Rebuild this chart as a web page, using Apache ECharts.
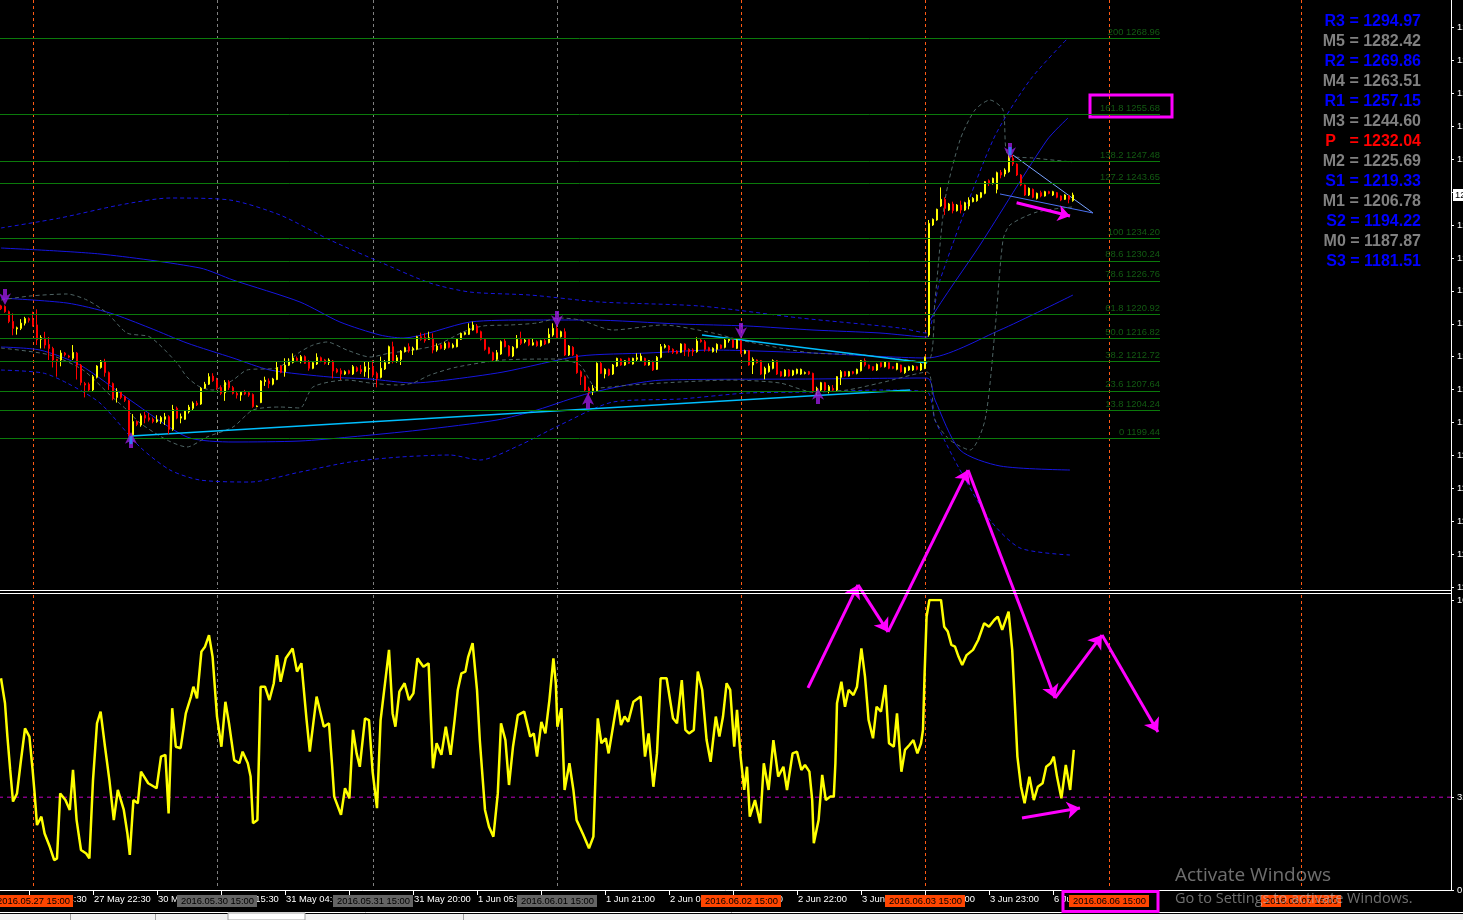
<!DOCTYPE html>
<html><head><meta charset="utf-8">
<script src="https://cdn.jsdelivr.net/npm/echarts@6.0.0/dist/echarts.min.js"></script>
<style>html,body{margin:0;padding:0;background:#000;overflow:hidden}#c{width:1463px;height:920px}</style>
</head><body><div id="c"></div>
<script>
// ---------- DATA ----------
// candles: [open, close, low, high] per 30-min bar
const candles = [
[1222.4,1221.9,1221.7,1222.6],[1222.3,1221.4,1221.2,1222.5],[1221.4,1219.7,1219.4,1221.6],[1219.7,1218.5,1217.3,1221.1],[1218.4,1218.6,1217.4,1218.8],
[1218.5,1219.4,1218.2,1220.1],[1219.4,1220.2,1219.0,1220.5],[1220.2,1219.9,1219.5,1220.4],[1219.95,1219.1,1218.8,1221.4],[1219.1,1216.5,1215.6,1221.8],
[1216.6,1216.9,1215.0,1217.3],[1216.8,1215.6,1215.0,1217.9],[1215.7,1215.0,1213.0,1217.0],[1215.0,1213.0,1211.7,1215.3],[1213.1,1212.9,1210.1,1213.2],
[1213.0,1214.2,1211.9,1214.7],[1214.2,1213.9,1213.6,1214.4],[1213.7,1213.5,1213.3,1213.9],[1213.3,1214.3,1213.0,1215.6],[1214.2,1212.1,1209.6,1214.4],
[1212.1,1209.1,1208.6,1212.3],[1208.9,1208.65,1206.5,1209.2],[1208.8,1207.8,1207.5,1209.1],[1207.8,1210.1,1207.5,1210.4],[1210.0,1211.95,1209.8,1212.1],
[1211.7,1212.8,1211.5,1213.0],[1212.65,1210.8,1210.1,1213.2],[1210.8,1208.9,1207.8,1211.0],[1208.9,1206.3,1206.0,1209.1],[1206.5,1207.5,1205.6,1208.1],
[1207.4,1206.5,1206.2,1207.6],[1206.6,1206.0,1205.7,1206.8],[1205.9,1200.0,1199.7,1206.05],[1200.0,1202.3,1199.8,1203.6],[1202.3,1201.8,1201.5,1202.5],
[1201.7,1203.3,1201.4,1203.7],[1203.4,1202.9,1202.0,1204.0],[1202.95,1202.6,1202.3,1203.8],[1202.7,1202.3,1202.0,1203.0],[1202.3,1202.6,1202.1,1203.4],
[1202.3,1203.0,1201.9,1203.3],[1202.7,1203.15,1201.7,1203.8],[1203.15,1200.95,1200.1,1203.4],[1200.95,1204.4,1200.7,1205.2],[1204.6,1202.9,1202.7,1204.9],
[1202.9,1203.15,1202.0,1203.7],[1202.7,1204.1,1202.6,1204.3],[1204.0,1204.8,1203.7,1205.2],[1204.6,1205.5,1204.3,1205.8],[1205.5,1205.2,1205.0,1205.9],
[1205.35,1208.1,1205.2,1208.3],[1208.1,1208.8,1208.0,1209.2],[1208.8,1210.1,1208.65,1210.7],[1210.2,1209.4,1209.2,1210.7],[1209.5,1208.2,1207.8,1209.9],
[1208.2,1207.2,1206.9,1208.6],[1207.3,1209.1,1205.9,1209.5],[1209.2,1208.2,1207.8,1209.5],[1208.2,1207.2,1207.0,1208.5],[1207.2,1206.9,1206.3,1207.5],
[1206.9,1207.4,1205.9,1207.6],[1207.4,1207.1,1206.9,1207.8],[1207.3,1206.9,1206.6,1207.5],[1207.0,1204.9,1204.7,1207.2],[1204.9,1205.0,1204.8,1205.1],
[1205.6,1209.35,1205.5,1209.5],[1209.25,1209.5,1208.5,1210.1],[1209.35,1208.9,1208.1,1209.8],[1208.8,1209.7,1208.6,1209.9],[1209.6,1211.7,1209.5,1212.7],
[1211.95,1210.85,1210.7,1212.1],[1210.95,1212.1,1210.1,1213.3],[1212.1,1212.7,1211.95,1213.3],[1212.6,1213.35,1212.4,1214.15],[1213.3,1212.9,1212.7,1213.6],
[1212.71,1213.58,1212.42,1213.87],[1213.58,1212.42,1212.3,1213.8],[1212.71,1211.55,1211.14,1213.0],[1211.55,1212.53,1211.4,1212.7],[1212.3,1213.46,1212.13,1214.16],
[1213.4,1212.82,1212.6,1213.6],[1213.0,1212.42,1212.2,1213.2],[1212.6,1213.0,1212.13,1213.29],[1212.82,1211.08,1209.81,1213.0],[1211.37,1210.91,1210.7,1211.6],
[1211.14,1210.56,1209.52,1211.55],[1210.56,1210.97,1210.4,1211.2],[1211.14,1210.68,1210.5,1211.3],[1210.56,1211.84,1210.39,1212.13],[1211.66,1211.08,1210.9,1211.9],
[1211.37,1210.97,1210.56,1212.13],[1210.97,1211.84,1210.10,1212.71],[1211.43,1211.55,1209.81,1212.71],[1211.84,1210.39,1209.98,1213.0],[1210.68,1209.81,1208.25,1210.97],
[1209.98,1211.55,1209.81,1213.58],[1211.43,1212.53,1211.26,1213.0],[1212.42,1215.31,1212.3,1215.5],[1215.31,1212.82,1212.42,1216.18],[1212.82,1213.40,1212.53,1213.87],
[1213.11,1214.56,1212.13,1214.73],[1214.44,1215.14,1214.3,1215.3],[1215.31,1214.56,1214.27,1215.89],[1214.73,1215.02,1213.87,1215.31],[1214.85,1217.05,1214.7,1217.2],
[1217.05,1216.59,1216.36,1217.75],[1216.88,1216.36,1216.01,1217.63],[1216.59,1216.88,1216.47,1217.92],[1216.76,1214.73,1214.16,1217.63],[1214.73,1215.43,1214.44,1215.89],
[1215.60,1215.02,1214.85,1215.75],[1215.02,1215.89,1214.73,1216.18],[1216.01,1215.20,1215.02,1216.2],[1215.20,1215.60,1215.02,1215.89],[1215.31,1216.59,1215.2,1216.8],
[1216.59,1217.63,1216.47,1217.75],[1217.46,1217.75,1217.3,1217.9],[1217.46,1218.50,1217.34,1219.37],[1218.21,1219.08,1218.1,1219.66],[1218.91,1217.75,1217.63,1219.25],
[1217.92,1216.59,1216.4,1218.1],[1216.59,1214.85,1214.62,1216.76],[1215.14,1214.16,1214.0,1215.3],[1214.27,1213.00,1212.71,1214.44],[1213.11,1214.27,1212.88,1214.73],
[1214.04,1216.18,1213.9,1216.4],[1216.30,1215.31,1215.2,1216.76],[1215.43,1213.75,1213.6,1215.6],[1213.69,1215.20,1213.5,1215.4],[1215.14,1216.59,1215.02,1217.34],
[1216.59,1215.89,1215.6,1217.92],[1216.18,1216.47,1215.9,1216.76],[1216.59,1215.60,1215.4,1216.8],[1215.60,1216.01,1215.49,1216.76],[1216.18,1215.49,1215.3,1216.4],
[1215.49,1216.36,1215.3,1216.5],[1216.36,1215.78,1215.6,1216.76],[1216.01,1217.46,1215.89,1218.50],[1217.34,1218.50,1217.05,1219.37],[1218.50,1216.93,1216.76,1219.08],
[1217.05,1217.92,1216.9,1218.1],[1217.92,1213.87,1213.69,1218.50],[1213.87,1215.43,1213.7,1215.6],[1215.20,1213.87,1213.7,1215.4],[1213.87,1210.80,1210.6,1214.0],
[1210.97,1210.10,1208.65,1211.2],[1210.10,1207.78,1207.5,1210.3],[1208.07,1207.32,1206.9,1208.36],[1207.67,1208.07,1206.9,1208.65],[1207.67,1212.42,1207.5,1212.6],
[1212.42,1210.68,1210.56,1212.71],[1210.56,1211.38,1209.81,1211.55],[1211.38,1210.39,1210.2,1211.5],[1210.56,1212.13,1210.4,1212.3],[1211.95,1213.29,1211.8,1213.4],
[1213.17,1212.13,1212.0,1213.3],[1212.13,1212.88,1212.0,1213.0],[1213.29,1212.42,1212.3,1213.4],[1212.30,1213.29,1212.2,1213.4],[1213.11,1213.40,1212.71,1214.16],
[1212.88,1213.69,1212.71,1214.16],[1213.29,1212.13,1212.0,1213.4],[1212.13,1212.88,1212.0,1213.0],[1212.71,1211.26,1211.1,1212.9],[1211.38,1213.46,1211.26,1213.69],
[1213.46,1215.32,1213.29,1215.78],[1215.2,1215.5,1215.0,1215.8],[1215.43,1214.74,1214.27,1215.60],[1214.85,1214.33,1214.04,1215.03],[1214.56,1214.16,1214.0,1214.7],
[1214.33,1215.78,1214.2,1215.9],[1215.78,1214.74,1213.69,1215.89],[1214.85,1214.45,1213.58,1215.03],[1214.74,1214.45,1213.69,1215.03],[1214.45,1216.30,1214.27,1216.94],
[1216.47,1216.18,1216.01,1216.76],[1216.18,1214.85,1214.45,1216.47],[1215.14,1214.62,1214.5,1215.3],[1214.45,1215.03,1214.3,1215.2],[1214.85,1215.72,1214.27,1215.89],
[1215.60,1215.03,1214.9,1215.7],[1215.20,1216.47,1215.03,1216.76],[1216.36,1216.59,1216.01,1216.76],[1216.47,1215.20,1215.1,1216.6],[1215.03,1216.47,1214.9,1216.6],
[1216.36,1214.16,1214.0,1216.5],[1214.16,1214.62,1214.0,1214.8],[1214.62,1212.13,1212.0,1214.7],[1212.13,1213.11,1210.56,1213.46],[1213.00,1212.53,1212.4,1213.1],
[1212.88,1210.56,1210.4,1213.0],[1210.56,1211.55,1209.64,1211.84],[1210.97,1211.95,1210.80,1212.42],[1211.55,1212.88,1211.38,1213.11],[1212.88,1210.56,1210.39,1213.00],
[1210.97,1210.22,1210.1,1211.1],[1210.22,1211.26,1210.1,1211.4],[1211.26,1210.22,1210.1,1211.4],[1210.39,1211.14,1210.2,1211.3],[1210.68,1211.38,1210.5,1211.5],
[1210.56,1211.38,1210.4,1211.5],[1210.68,1210.80,1210.5,1211.0],[1210.97,1210.56,1210.4,1211.1],[1210.68,1207.49,1207.32,1210.80],[1207.49,1208.07,1206.91,1208.36],
[1207.78,1209.06,1207.6,1209.2],[1209.06,1207.78,1207.6,1209.2],[1207.67,1208.36,1207.20,1208.65],[1208.07,1207.78,1207.49,1208.65],[1207.78,1210.10,1207.6,1210.2],
[1209.98,1210.97,1208.65,1211.26],[1210.97,1210.22,1210.1,1211.1],[1210.22,1210.97,1210.1,1211.1],[1210.97,1210.68,1210.5,1211.1],[1210.68,1211.38,1210.5,1211.5],
[1211.14,1212.88,1211.0,1213.0],[1212.88,1212.13,1211.84,1213.29],[1212.13,1211.55,1211.4,1212.2],[1211.84,1211.26,1211.1,1211.9],[1211.26,1212.24,1211.1,1212.4],
[1212.53,1211.84,1211.7,1212.6],[1211.84,1212.71,1211.7,1212.8],[1212.53,1211.55,1211.4,1212.6],[1211.84,1211.55,1211.4,1211.9],[1211.38,1212.42,1211.2,1212.5],
[1212.13,1210.97,1210.8,1212.2],[1210.80,1211.67,1210.6,1211.8],[1211.26,1211.84,1211.1,1212.0],[1211.26,1211.95,1211.1,1212.1],[1211.84,1211.38,1211.2,1212.0],
[1211.26,1212.30,1211.1,1212.5],[1211.55,1213.46,1211.4,1213.6],[1217.34,1236.75,1217.05,1237.33],[1236.46,1237.44,1236.3,1237.6],[1237.33,1239.18,1237.2,1239.3],
[1239.76,1240.92,1239.6,1243.0],[1240.92,1239.35,1238.19,1241.27],[1239.06,1240.11,1238.9,1240.3],[1240.11,1238.95,1238.48,1240.51],[1238.95,1239.93,1238.8,1240.1],
[1239.93,1239.06,1238.48,1240.69],[1239.06,1240.34,1238.9,1240.5],[1239.76,1240.80,1239.18,1241.27],[1240.51,1241.09,1240.4,1241.3],[1240.69,1241.67,1240.5,1241.8],
[1241.27,1242.08,1241.1,1242.2],[1241.96,1243.99,1241.8,1244.1],[1244.16,1243.70,1243.23,1244.39],[1243.70,1244.57,1243.5,1244.7],[1242.66,1245.55,1241.96,1245.73],
[1245.61,1245.15,1244.57,1246.02],[1245.32,1246.02,1244.86,1246.31],[1245.73,1248.22,1245.55,1248.91],[1248.04,1247.06,1246.71,1248.62],[1247.06,1245.15,1244.97,1247.17],
[1245.15,1243.41,1243.2,1245.3],[1243.41,1241.67,1241.5,1243.5],[1241.67,1242.83,1241.5,1243.0],[1242.66,1241.27,1241.1,1242.8],[1241.09,1241.96,1240.9,1242.1],
[1242.08,1241.50,1241.27,1242.42],[1241.50,1242.25,1241.4,1242.4],[1242.25,1241.96,1241.8,1242.4],[1241.67,1242.25,1241.5,1242.4],[1242.08,1241.27,1241.1,1242.2],
[1241.50,1240.80,1240.6,1241.6],[1240.92,1241.67,1240.8,1241.8],[1241.50,1240.92,1240.23,1241.67],[1240.69,1241.67,1240.51,1242.08]
];

// oscillator (lower panel), [bar, value]
const osc = [
[0,73.0],[1.0,64.4],[1.6,52.9],[2.3,41.4],[3.0,30.5],[4.0,33.3],[4.9,43.7],[6.0,55.7],[7.1,52.9],[7.9,41.4],[8.4,33.3],[9.0,22.4],[10.1,25.3],[10.9,19.5],[12.2,14.9],[13.3,10.3],[14.0,10.9],[14.8,33.3],[16.1,31.0],[17.2,27.6],[18.0,41.4],[18.9,24.1],[20.0,13.8],[21.3,12.6],[22.1,10.9],[23.0,37.9],[24.0,57.5],[24.9,61.5],[26.0,49.4],[27.1,37.9],[28.2,24.1],[29.2,34.5],[30.7,27.6],[31.6,19.5],[32.2,12.1],[33.1,31.0],[34.2,29.9],[35.0,40.8],[36.8,36.8],[38.9,35.1],[40.0,46.0],[41.1,46.6],[41.9,26.4],[42.8,62.7],[43.7,49.4],[44.9,48.9],[46.2,60.9],[47.5,66.7],[48.1,70.1],[49.0,66.1],[50.1,82.2],[51.0,83.9],[52.0,87.9],[52.9,80.4],[54.0,59.8],[55.1,49.4],[56.1,64.9],[57.0,57.5],[58.3,44.8],[59.6,43.7],[60.4,47.7],[61.7,43.7],[62.4,39.1],[63.0,23.0],[64.1,24.1],[64.9,70.1],[66.0,70.1],[67.1,65.5],[68.2,71.3],[69.0,81.0],[69.9,71.8],[71.2,79.9],[72.9,83.3],[74.0,75.3],[75.1,78.2],[76.4,58.6],[77.2,47.7],[78.9,66.7],[80.7,56.3],[82.0,57.5],[82.8,42.5],[83.3,32.2],[85.0,25.9],[86.0,35.1],[87.1,31.6],[88.0,55.2],[88.9,47.1],[89.7,42.5],[91.0,59.2],[92.0,58.6],[92.9,40.8],[94.0,28.2],[94.9,58.6],[96.2,73.6],[97.0,82.8],[97.9,60.9],[98.6,56.3],[99.6,68.4],[100.9,71.3],[102.0,65.5],[103.1,67.8],[104.1,79.9],[105.6,77.0],[106.9,78.2],[108.0,42.0],[108.9,50.6],[110.1,46.6],[111.2,56.3],[112.4,46.6],[113.4,58.6],[114.2,69.0],[115.1,74.7],[116.1,75.3],[116.8,80.4],[117.9,85.1],[119.0,69.0],[119.7,51.7],[121.0,27.6],[122.0,21.8],[123.1,18.4],[124.2,33.3],[125.0,57.5],[126.1,51.7],[127.0,36.2],[128.0,49.4],[129.2,60.3],[130.8,61.5],
[132.3,52.9],[133.2,54.0],[134.0,46.0],[135.1,58.0],[136.1,54.0],[137.1,65.5],[138.1,79.9],[138.7,71.3],[139.1,56.3],[140.1,62.7],[140.9,34.5],[142.1,43.7],[143.1,34.5],[143.9,24.1],[145.6,19.0],[147.0,14.4],[148.1,18.4],[148.8,46.0],[149.2,59.2],[150.1,50.6],[151.2,52.3],[151.9,47.1],[153.0,56.3],[154.1,65.5],[155.0,56.9],[155.9,59.8],[156.8,58.0],[158.1,64.9],[159.9,66.7],[161.0,46.0],[161.9,54.0],[163.1,35.6],[164.0,47.1],[164.9,73.0],[166.4,73.0],[168.0,59.2],[169.0,57.5],[170.2,72.4],[171.1,55.2],[172.0,54.0],[173.2,55.2],[174.2,75.3],[175.3,69.0],[176.4,51.7],[177.4,44.2],[178.7,59.8],[179.6,52.9],[180.5,59.8],[181.4,71.3],[182.3,69.0],[183.3,49.4],[184.0,62.1],[184.9,46.0],[185.8,34.5],[186.5,42.5],[187.2,25.3],[188.5,31.0],[189.8,23.0],[190.7,43.7],[191.9,34.5],[193.1,51.7],[194.3,39.1],[195.6,42.5],[196.5,34.5],[197.9,47.1],[199.0,47.7],[200.1,41.4],[201.0,43.1],[202.1,40.8],[202.8,31.0],[203.2,16.1],[204.4,24.1],[205.3,39.7],[206.2,31.0],[207.3,32.2],[208.2,32.2],[208.6,43.7],[209.0,64.4],[210.1,71.8],[211.0,63.2],[211.9,69.0],[213.1,67.2],[214.0,70.1],[215.1,83.3],[216.0,73.6],[216.9,58.6],[218.0,52.3],[218.9,63.2],[220.0,61.5],[221.1,70.7],[222.0,50.6],[223.2,49.4],[224.0,60.9],[225.1,40.8],[226.0,48.3],[227.1,50.0],[228.1,51.7],[229.1,47.1],[230.0,50.6],[230.5,55.2],[230.9,74.7],[231.4,94.3],[232.1,100],[235.0,100],[235.8,90.8],[236.7,89.1],[237.6,84.5],[238.5,83.9],[239.4,80.4],[240.3,77.6],[241.4,81.0],[243.0,82.8],[244.3,86.2],[245.8,92.0],[247.0,90.8],[248.3,93.1],[249.2,94.3],[250.3,89.7],[251.9,96.0],[252.8,82.8],[253.5,63.2],[254.1,46.0],[255.0,35.6],[255.9,29.9],[257.1,39.1],[258.2,31.0],[259.2,35.6],[260.4,36.8],[261.3,42.5],[262.4,43.7],[263.2,46.0],[264.0,39.1],[265.1,31.6],[266.2,43.1],[267.3,34.5],[268.2,48.3]
];

// band lines [bar, price]
const bandOuterUpper = [[0,1235.94],[14.75,1237.68],[29.75,1239.94],[42.25,1241.15],[57.25,1240.80],[69.75,1238.20],[82.25,1233.85],[94.75,1230.03],[107.25,1226.38],[117.25,1224.81],[132.25,1224.29],[149.75,1223.08],[174.75,1222.38],[199.75,1220.30],[224.75,1218.56],[231.25,1217.69],[234.75,1226.90],[248,1251.23],[257.25,1261.66],[266.75,1268.96]];
const bandOuterLower = [[0,1211.26],[10.5,1210.74],[16.5,1209.00],[24.75,1205.52],[34.75,1197.88],[42.25,1193.88],[49.75,1192.14],[62.25,1191.79],[74.75,1193.53],[87.25,1195.27],[99.75,1196.14],[112.25,1196.49],[119.75,1195.62],[129.75,1198.22],[139.75,1201.70],[153,1205.70],[169.75,1206.22],[186.5,1207.26],[203,1207.44],[219.75,1207.78],[231.5,1207.44],[233.5,1202.57],[239.75,1193.88],[247.25,1185.19],[254.75,1180.33],[267.25,1179.11]];
const bandInnerUpper = [[0,1232.46],[24.75,1231.42],[49.75,1228.99],[58,1226.90],[74.75,1223.08],[84.75,1219.60],[94.75,1217.34],[100.5,1216.82],[117.25,1219.60],[132.25,1219.95],[147.25,1219.95],[169.75,1219.25],[186.5,1218.91],[203,1218.21],[219.75,1217.69],[231.5,1216.99],[232.25,1219.95],[244.75,1232.98],[261.5,1251.23],[266.75,1255.06]];
const bandMiddle = [[0,1223.77],[16.5,1222.90],[27.25,1221.17],[37.25,1218.56],[46.5,1215.95],[58,1213.35],[67.25,1211.26],[82.25,1210.04],[92.25,1209.70],[103,1209.00],[111.5,1209.52],[125.5,1210.91],[144.75,1213.69],[161.5,1214.21],[178,1214.73],[203,1214.21],[231.5,1213.35],[249.75,1218.21],[268,1224.29]];
const bandInnerLower = [[0,1215.26],[9.75,1214.73],[19.75,1212.13],[32.25,1206.05],[46.5,1199.62],[58,1198.75],[74.75,1198.92],[87.25,1199.62],[104.75,1200.83],[124,1202.57],[134,1204.31],[147.25,1207.26],[165.5,1209.52],[203,1209.70],[231.5,1209.87],[233.5,1206.05],[239.75,1197.36],[249.75,1194.58],[267.25,1193.88]];
const bbUpper = [[0,1223.42],[7.25,1224.12],[16.5,1224.47],[21.5,1223.42],[26.5,1221.17],[31.5,1217.69],[37.25,1216.99],[44,1212.48],[46.5,1210.04],[49.75,1208.31],[53,1207.78],[58,1209.52],[61.5,1211.26],[69,1211.61],[74.75,1214.39],[78,1215.60],[81.5,1216.13],[86.5,1214.73],[92.25,1213.52],[97.25,1214.21],[103,1214.73],[109,1215.60],[115.5,1217.86],[120.5,1218.91],[127.25,1219.08],[134,1219.43],[139.75,1220.30],[144.75,1219.95],[153,1218.21],[165.5,1219.08],[178,1217.69],[184.75,1216.47],[194.75,1215.08],[203,1214.21],[215.5,1213.87],[231.5,1212.65],[233.5,1223.42],[236,1240.80],[239.75,1251.23],[243.5,1256.45],[247.25,1258.18],[250.5,1256.45],[251.75,1248.62],[258,1248.10],[267.75,1247.41]];
const bbLower = [[0,1215.08],[12.25,1213.87],[20.5,1211.26],[27.25,1206.91],[31.5,1204.31],[34.75,1202.05],[41.5,1199.09],[46.5,1197.88],[51.5,1199.62],[58,1201.35],[63,1204.31],[69.75,1204.83],[74.75,1204.66],[78,1208.31],[86.5,1209.52],[92.25,1209.00],[99,1208.65],[103,1209.00],[107.25,1210.39],[114,1211.78],[125.5,1213.00],[139,1213.17],[144.75,1212.13],[149,1208.13],[157.25,1208.65],[169.75,1209.17],[182.25,1209.52],[194.75,1209.00],[203,1207.44],[211.5,1207.78],[219.75,1209.00],[231.5,1210.9],[233.5,1202.57],[237.25,1199.09],[242.25,1197.36],[246,1202.57],[248.5,1218.21],[250.5,1233.85],[252.25,1236.46],[259,1238.72],[267.75,1239.59]];

// Fibonacci levels
const fibLevels = ['200','161.8','138.2','127.2','100','88.6','78.6','61.8','50.0','38.2','23.6','13.8','0'];
const fibPrices = [1268.96,1255.68,1247.48,1243.65,1234.20,1230.24,1226.76,1220.92,1216.82,1212.72,1207.64,1204.24,1199.44];
const fibEndBar = 289.75;

// trend lines [[bar, price],[bar, price]]
const trendCyan = [[[32.5,1199.79],[227.25,1207.78]],[[175.25,1217.34],[231.5,1212.48]]];
const wedgeUpper = [[253,1248.62],[273,1238.55]];
const wedgeLower = [[249.75,1241.85],[273,1238.55]];
const magentaPriceArrow = [[253.9,1240.33],[267.25,1238.02]];
const fibBoxCorners = [[272.25,1259.05],[292.75,1255.23]];

// fractal arrows
const arrowDown = [[1,1223.95],[139,1220.12],[185,1218.04],[252.25,1249.32]];
const arrowUp = [[32.5,1199.09],[146.75,1205.87],[204.25,1206.74]];

// lower panel annotations
const zigBars = [201.75,214.25,221.75,241.75,263.5,275.25,289.25];
const zigVals = [69.7,105.2,89.0,144.8,66.2,87.9,54.5];
const oscArrow = [[255.25,24.8],[269.75,28.3]];
const oscLevel = 32;

// pivot table
const pivotNames = ['R3','M5','R2','M4','R1','M3','P  ','M2','S1','M1','S2','M0','S3'];
const pivotValues = ['1294.97','1282.42','1269.86','1263.51','1257.15','1244.60','1232.04','1225.69','1219.33','1206.78','1194.22','1187.87','1181.51'];
const pivotColors = ['#0000ff','#808080','#0000ff','#808080','#0000ff','#808080','#ff0000','#808080','#0000ff','#808080','#0000ff','#808080','#0000ff'];

// time axis
const tickBars = [7,23,39,55,71,87,103,119,135,151,167,183,199,215,231,247,263];
const tickLabels = ['27 May 14:30','27 May 22:30','30 May 07:30','30 May 15:30','31 May 04:00','31 May 12:00','31 May 20:00','1 Jun 05:00','1 Jun 13:00','1 Jun 21:00','2 Jun 06:00','2 Jun 14:00','2 Jun 22:00','3 Jun 07:00','3 Jun 15:00','3 Jun 23:00','6 Jun 08:00'];
const sepBars = [8,54,93,139,185,231,277,325];
const sepLabels = ['2016.05.27 15:00','2016.05.30 15:00','2016.05.31 15:00','2016.06.01 15:00','2016.06.02 15:00','2016.06.03 15:00','2016.06.06 15:00','2016.06.07 15:00'];
const sepKinds = ['o','g','g','g','o','o','o','o'];

// price axis ticks
const priceTicks = [1173.55,1179.27,1184.99,1190.70,1196.42,1202.14,1207.86,1213.58,1219.29,1225.01,1230.73,1236.45,1242.17,1247.88,1253.60,1259.32,1265.04,1270.76];
const oscTicks = [0,32,100];

// ---------- CHART ----------
const N = 363;
const FONT = '"Liberation Sans", Arial, sans-serif';
const cats = Array.from({length:N}, (_, i) => { const k = tickBars.indexOf(i); return k >= 0 ? tickLabels[k] : ''; });
const isTick = (i) => tickBars.indexOf(i) >= 0;

const BLUE = '#1616e0', GRAY = '#4f6464', CYAN = '#00bfff', MAG = '#ff00ff';
function bandSeries(data, color, dash) {
  return {type:'line', xAxisIndex:1, yAxisIndex:0, data, symbol:'none', smooth:0.25, silent:true,
    lineStyle:{color, width:1, type: dash ? [4,3] : 'solid'}, z:2};
}
function segSeries(pts, color, width) {
  return {type:'line', xAxisIndex:1, yAxisIndex:0, data:pts, symbol:'none', silent:true, lineStyle:{color, width}, z:3};
}
const downPath = 'path://M4,0L8,0L8,6L12,4L6,15L0,4L4,6Z';
const upPath = 'path://M6,0L12,11L8,9L8,15L4,15L4,9L0,11Z';

const zigSegs = zigBars.slice(1).map((b, i) => ({coords:[[zigBars[i], zigVals[i]], [b, zigVals[i+1]]]}));
zigSegs.push({coords:[oscArrow[0], oscArrow[1]]});

const option = {
  backgroundColor:'#000',
  animation:false,
  grid:[{left:-1, top:0, width:1452, height:590, outerBoundsMode:'none', containLabel:false},
        {left:-1, top:600, width:1452, height:290, outerBoundsMode:'none', containLabel:false}],
  xAxis:[
    {type:'category', gridIndex:0, data:cats, boundaryGap:true, show:false},
    {type:'value', gridIndex:0, min:-0.5, max:N-0.5, show:false},
    {type:'value', gridIndex:1, min:-0.5, max:N-0.5, show:false},
    {type:'category', gridIndex:1, data:cats, boundaryGap:true, position:'bottom',
      axisLine:{show:true, onZero:false, lineStyle:{color:'#ffffff', width:1}},
      axisTick:{show:true, alignWithLabel:true, interval:isTick, length:5, lineStyle:{color:'#ffffff'}},
      axisLabel:{show:true, interval:isTick, align:'left', color:'#ffffff', fontSize:9.4, fontFamily:FONT, margin:5, padding:[0,0,0,1], hideOverlap:false},
      splitLine:{show:false}}
  ],
  yAxis:[
    {type:'value', gridIndex:0, position:'right', min:1173.03, max:1275.56,
      axisLine:{show:true, onZero:false, lineStyle:{color:'#ffffff'}},
      axisTick:{show:true, length:3, customValues:priceTicks, lineStyle:{color:'#ffffff'}},
      axisLabel:{show:true, customValues:priceTicks, formatter:v => v.toFixed(2), color:'#ffffff', fontSize:9.4, fontFamily:FONT, margin:6},
      splitLine:{show:false}},
    {type:'value', gridIndex:1, position:'right', min:0, max:100,
      axisLine:{show:true, onZero:false, lineStyle:{color:'#ffffff'}},
      axisTick:{show:true, length:3, customValues:oscTicks, lineStyle:{color:'#ffffff'}},
      axisLabel:{show:true, customValues:oscTicks, color:'#ffffff', fontSize:9.4, fontFamily:FONT, margin:6},
      splitLine:{show:false}}
  ],
  series:[
    // Fibonacci lines
    {type:'line', xAxisIndex:1, yAxisIndex:0, data:[], silent:true, z:1,
      markLine:{silent:true, symbol:['none','none'], label:{show:false}, animation:false,
        lineStyle:{color:'#0b7a0b', width:1, type:'solid'},
        data: fibPrices.map(p => [{coord:[-0.5,p]},{coord:[fibEndBar,p]}])},
      markArea:{silent:true, itemStyle:{color:'rgba(0,0,0,0)', borderColor:MAG, borderWidth:3},
        data:[[{coord:fibBoxCorners[0]},{coord:fibBoxCorners[1]}]]}},
    {type:'scatter', xAxisIndex:1, yAxisIndex:0, symbolSize:0, silent:true, z:3,
      data: fibPrices.map((p,i) => ({value:[fibEndBar,p], label:{formatter: fibLevels[i] + ' ' + p.toFixed(2)}})),
      label:{show:true, position:'left', distance:0, offset:[0,-6], color:'#177017', fontSize:9.4, fontFamily:FONT}},
    // bands
    bandSeries(bandOuterUpper, BLUE, true),
    bandSeries(bandOuterLower, BLUE, true),
    bandSeries(bandInnerUpper, BLUE, false),
    bandSeries(bandMiddle, BLUE, false),
    bandSeries(bandInnerLower, BLUE, false),
    bandSeries(bbUpper, GRAY, true),
    bandSeries(bbLower, GRAY, true),
    // trend lines
    segSeries(trendCyan[0], CYAN, 1.5),
    segSeries(trendCyan[1], CYAN, 1.5),
    segSeries(wedgeUpper, '#7aa4ff', 1),
    segSeries(wedgeLower, '#4a70f0', 1),
    // candles
    {type:'candlestick', xAxisIndex:0, yAxisIndex:0, data:candles, barWidth:2, silent:true, z:4,
      itemStyle:{color:'#ffff00', color0:'#ff0000', borderColor:'#ffff00', borderColor0:'#ff0000', borderWidth:1}},
    // magenta arrow in price panel
    {type:'lines', coordinateSystem:'cartesian2d', xAxisIndex:1, yAxisIndex:0, clip:false, silent:true, z:6,
      symbol:['none','arrow'], symbolSize:12, lineStyle:{color:MAG, width:3, opacity:1, curveness:0},
      data:[{coords:magentaPriceArrow}]},
    // fractal arrows
    {type:'scatter', xAxisIndex:1, yAxisIndex:0, data:arrowDown, symbol:downPath, symbolSize:[12,16], silent:true, z:5,
      itemStyle:{color:'#9a1adf'}},
    {type:'scatter', xAxisIndex:1, yAxisIndex:0, data:arrowUp, symbol:upPath, symbolSize:[12,16], silent:true, z:5,
      itemStyle:{color:'#9a1adf'}},
    {type:'scatter', xAxisIndex:1, yAxisIndex:0, data:[arrowUp[0], arrowDown[3]], symbol:'rect', symbolSize:[3,8], silent:true, z:6,
      itemStyle:{color:'#1e90ff'}},
    // 32 level
    {type:'line', xAxisIndex:2, yAxisIndex:1, data:[[-0.5,oscLevel],[N-0.5,oscLevel]], symbol:'none', silent:true, z:2,
      lineStyle:{color:'#c000c0', width:1, type:[4,4]}},
    // oscillator
    {type:'line', xAxisIndex:2, yAxisIndex:1, data:osc, symbol:'none', silent:true, z:3,
      lineStyle:{color:'#ffff00', width:2.5}},
    // magenta zigzag + arrow in lower panel
    {type:'lines', coordinateSystem:'cartesian2d', xAxisIndex:2, yAxisIndex:1, clip:false, silent:true, z:7,
      symbol:['none','arrow'], symbolSize:13, lineStyle:{color:MAG, width:3, opacity:1, curveness:0},
      data: zigSegs}
  ]
};

const chart = echarts.init(document.getElementById('c'), null, {renderer:'canvas'});
chart.setOption(option);

// ---------- overlays positioned through the chart's own scales ----------
const X = b => chart.convertToPixel({xAxisIndex:1}, b);
const g = [];
function txt(x, y, text, fill, font, align, z) {
  return {type:'text', x, y, z: z || 50, silent:true,
    style:{text, fill, font, align: align || 'left', verticalAlign:'middle', textAlign: align || 'left', textVerticalAlign:'middle'}};
}
sepBars.forEach((b, i) => {
  const x = Math.round(X(b)) + 0.5;
  const col = sepKinds[i] === 'o' ? '#ff5a14' : '#808080';
  g.push({type:'line', z:1, silent:true, shape:{x1:x, y1:0, x2:x, y2:589}, style:{stroke:col, lineWidth:1, lineDash:[3,3]}});
  g.push({type:'line', z:1, silent:true, shape:{x1:x, y1:595, x2:x, y2:889}, style:{stroke:col, lineWidth:1, lineDash:[3,3]}});
  g.push({type:'rect', z:60, silent:true, shape:{x:x-40.5, y:895, width:80, height:12}, style:{fill: sepKinds[i] === 'o' ? '#ff4500' : '#646464'}});
  g.push(txt(x, 901.5, sepLabels[i], '#000000', '9.4px ' + FONT, 'center', 61));
});
// magenta box round the 2016.06.06 label
{
  const x = Math.round(X(sepBars[6]));
  g.push({type:'rect', z:70, silent:true, shape:{x:x-46, y:891.5, width:95, height:20}, style:{fill:'none', stroke:MAG, lineWidth:3}});
}
// frame lines
g.push({type:'line', z:40, silent:true, shape:{x1:0, y1:590.5, x2:1452, y2:590.5}, style:{stroke:'#ffffff', lineWidth:1}});
g.push({type:'line', z:40, silent:true, shape:{x1:0, y1:593.5, x2:1452, y2:593.5}, style:{stroke:'#ffffff', lineWidth:1}});
g.push({type:'line', z:40, silent:true, shape:{x1:1451.5, y1:0, x2:1451.5, y2:890}, style:{stroke:'#ffffff', lineWidth:1}});
g.push({type:'line', z:40, silent:true, shape:{x1:0, y1:912.5, x2:1463, y2:912.5}, style:{stroke:'#ffffff', lineWidth:1}});
g.push({type:'rect', z:40, silent:true, shape:{x:0, y:914, width:1463, height:6}, style:{fill:'#f0f0f0'}});
g.push({type:'rect', z:41, silent:true, shape:{x:228, y:913, width:77, height:7}, style:{fill:'#ffffff', stroke:'#a0a0a0', lineWidth:1}});
[70,155,463].forEach(x => g.push({type:'line', z:41, silent:true, shape:{x1:x+0.5, y1:914, x2:x+0.5, y2:920}, style:{stroke:'#a0a0a0', lineWidth:1}}));
// current price label
{
  const last = candles[candles.length-1][1];
  const y = chart.convertToPixel({yAxisIndex:0}, last);
  g.push({type:'rect', z:45, silent:true, shape:{x:1453, y:Math.round(y)-6, width:12, height:12}, style:{fill:'#ffffff'}});
  g.push(txt(1455, Math.round(y), last.toFixed(2), '#000000', '9.4px ' + FONT, 'left', 46));
}
// pivot table
pivotNames.forEach((n, i) => {
  g.push(txt(1421, 22 + 20*i, n + ' = ' + pivotValues[i], pivotColors[i], 'bold 16px ' + FONT, 'right', 50));
});
// watermark
g.push(txt(1175, 876, 'Activate Windows', 'rgba(200,200,200,0.55)', '19px "Open Sans", "Noto Sans", sans-serif', 'left', 200));
g.push(txt(1175, 899, 'Go to Settings to activate Windows.', 'rgba(200,200,200,0.55)', '14.5px "Open Sans", "Noto Sans", sans-serif', 'left', 200));

chart.setOption({graphic:{elements:g}});
</script>
</body></html>
